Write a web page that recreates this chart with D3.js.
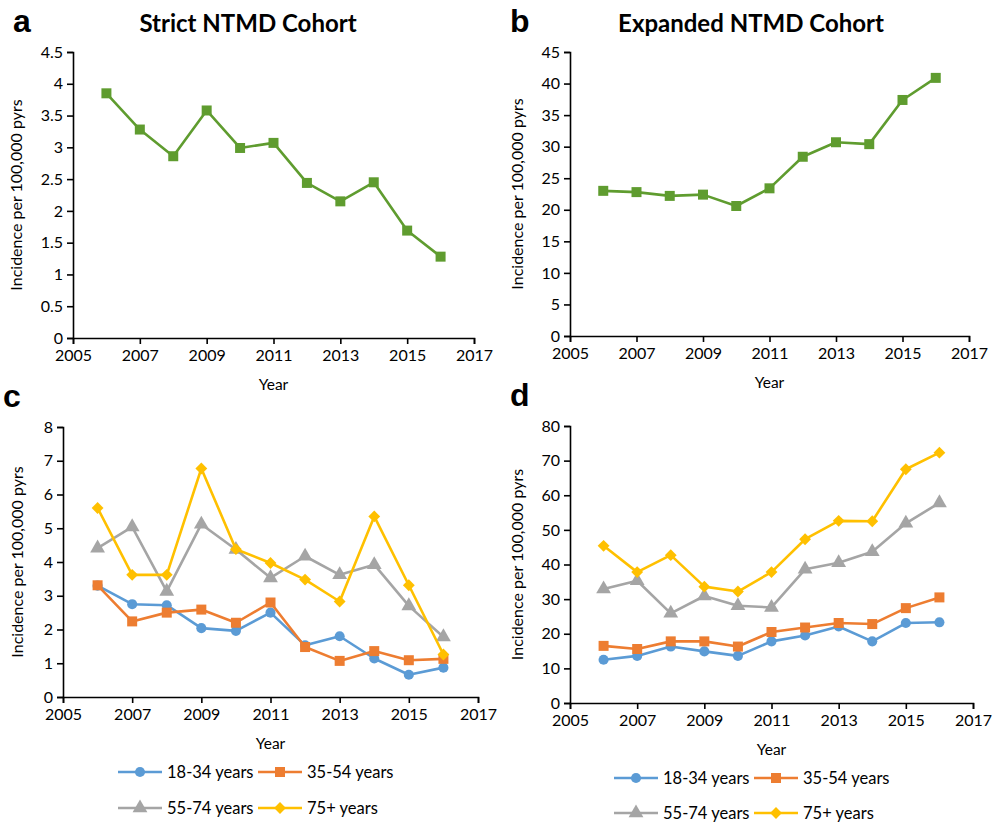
<!DOCTYPE html>
<html>
<head>
<meta charset="utf-8">
<script src="https://cdn.jsdelivr.net/npm/d3@7"></script>
<style>
  body { margin: 0; background: #fff; }
  svg text { font-family: Lato, "Open Sans", sans-serif; fill: #000; }
</style>
</head>
<body>
<svg id="svg" width="1003" height="822"></svg>
<script>
// data
const years = [2006, 2007, 2008, 2009, 2010, 2011, 2012, 2013, 2014, 2015, 2016];
const xTicks = [2005, 2007, 2009, 2011, 2013, 2015, 2017];

const strictTotal = [3.85, 3.28, 2.86, 3.58, 2.99, 3.07, 2.44, 2.15, 2.45, 1.69, 1.28];
const expandedTotal = [23.0, 22.8, 22.2, 22.4, 20.6, 23.4, 28.4, 30.7, 30.4, 37.4, 40.9];

const strict18 = [3.30, 2.75, 2.72, 2.04, 1.96, 2.50, 1.53, 1.80, 1.14, 0.66, 0.87];
const strict35 = [3.31, 2.24, 2.50, 2.59, 2.20, 2.80, 1.48, 1.07, 1.36, 1.09, 1.13];
const strict55 = [4.41, 5.04, 3.13, 5.12, 4.37, 3.53, 4.17, 3.62, 3.92, 2.70, 1.78];
const strict75 = [5.60, 3.62, 3.62, 6.77, 4.38, 3.97, 3.48, 2.83, 5.35, 3.31, 1.26];

const exp18 = [12.5, 13.6, 16.3, 14.9, 13.6, 17.8, 19.5, 22.1, 17.8, 23.1, 23.3];
const exp35 = [16.5, 15.6, 17.8, 17.8, 16.3, 20.5, 21.8, 23.1, 22.8, 27.4, 30.5];
const exp55 = [32.9, 35.3, 25.9, 30.9, 28.1, 27.6, 38.6, 40.5, 43.7, 51.9, 57.8];
const exp75 = [45.4, 37.8, 42.7, 33.6, 32.2, 37.8, 47.3, 52.6, 52.5, 67.5, 72.3];

const ageGroups = ["18-34 years", "35-54 years", "55-74 years", "75+ years"];
const ageColors = ["#5b9bd5", "#ed7d31", "#a5a5a5", "#ffc000"];
const ageShapes = ["circle", "square", "triangle", "diamond"];
const green = "#5f9c2f";

const yTicksA = [0, 0.5, 1, 1.5, 2, 2.5, 3, 3.5, 4, 4.5];
const yTicksB = [0, 5, 10, 15, 20, 25, 30, 35, 40, 45];
const yTicksC = [0, 1, 2, 3, 4, 5, 6, 7, 8];
const yTicksD = [0, 10, 20, 30, 40, 50, 60, 70, 80];

const svg = d3.select("#svg");

function marker(shape) {
    if (shape === "circle") return d3.symbol(d3.symbolCircle, 80)();
    if (shape === "square") return d3.symbol(d3.symbolSquare, 100)();
    if (shape === "triangle") return d3.symbol(d3.symbolTriangle, 95)();
    return d3.symbol(d3.symbolSquare, 70)();
}
function markerRotate(shape) {
    return shape === "diamond" ? " rotate(45)" : "";
}

function drawPanel(p) {
    const g = svg.append("g");
    const x = d3.scaleLinear().domain([2005, 2017]).range([p.left, p.right]);
    const y = d3.scaleLinear().domain([0, p.yMax]).range([p.bottom, p.top]);

    // axes
    const xAxis = g.append("g")
        .attr("transform", "translate(0," + p.bottom + ")")
        .call(d3.axisBottom(x).tickValues(xTicks).tickFormat(d => d).tickSizeOuter(0).tickSize(6).tickPadding(6));
    const yAxis = g.append("g")
        .attr("transform", "translate(" + p.left + ",0)")
        .call(d3.axisLeft(y).tickValues(p.yTicks).tickFormat(d => d).tickSizeOuter(0).tickSize(6).tickPadding(4));
    [xAxis, yAxis].forEach(a => {
        a.selectAll("path, line").attr("stroke", "#000").attr("stroke-width", 1.6);
        a.selectAll("text").style("font-size", "16px").attr("fill", "#000");
    });

    // panel letter and title
    g.append("text").attr("x", p.left - 60).attr("y", p.top - 20)
        .style("font-family", "Arial, 'Liberation Sans', sans-serif")
        .style("font-weight", "bold").style("font-size", "32px").text(p.letter);
    if (p.title) {
        g.append("text").attr("x", p.titleX).attr("y", 32).attr("text-anchor", "middle")
            .style("font-weight", "bold").style("font-size", "24px").text(p.title);
    }

    // axis titles
    g.append("text").attr("x", (p.left + p.right) / 2).attr("y", p.bottom + 52)
        .attr("text-anchor", "middle").style("font-size", "15.5px").text("Year");
    g.append("text")
        .attr("transform", "translate(" + (p.left - p.labelOff) + "," + ((p.top + p.bottom) / 2) + ") rotate(-90)")
        .attr("text-anchor", "middle").style("font-size", "16px").text("Incidence per 100,000 pyrs");

    // series
    const line = d3.line().x((d, i) => x(years[i])).y(d => y(d));
    p.series.forEach(s => {
        g.append("path").datum(s.values)
            .attr("d", line).attr("fill", "none")
            .attr("stroke", s.color).attr("stroke-width", 2.6).attr("stroke-linejoin", "round");
        g.selectAll(null).data(s.values).enter().append("path")
            .attr("d", marker(s.shape))
            .attr("transform", (d, i) => "translate(" + x(years[i]) + "," + y(d) + ")" + markerRotate(s.shape))
            .attr("fill", s.color);
    });

    // legend
    if (p.legend) {
        const s = p.legend;
        ageGroups.forEach((name, i) => {
            const lx = s.x + (i % 2) * s.dx;
            const ly = s.y + Math.floor(i / 2) * s.dy;
            g.append("line").attr("x1", lx).attr("x2", lx + 44).attr("y1", ly).attr("y2", ly)
                .attr("stroke", ageColors[i]).attr("stroke-width", 2.6);
            g.append("path").attr("d", marker(ageShapes[i]))
                .attr("transform", "translate(" + (lx + 22) + "," + ly + ")" + markerRotate(ageShapes[i]))
                .attr("fill", ageColors[i]);
            g.append("text").attr("x", lx + 49).attr("y", ly + 6)
                .style("font-size", "16.5px").text(name);
        });
    }
}

function ageSeries(vals) {
    return vals.map((v, i) => ({ values: v, color: ageColors[i], shape: ageShapes[i] }));
}

drawPanel({ letter: "a", title: "Strict NTMD Cohort", titleX: 248, labelOff: 51,
    left: 73, right: 474, top: 52, bottom: 338, yMax: 4.5, yTicks: yTicksA,
    series: [{ values: strictTotal, color: green, shape: "square" }] });

drawPanel({ letter: "b", title: "Expanded NTMD Cohort", titleX: 751, labelOff: 47,
    left: 570, right: 969, top: 52, bottom: 336, yMax: 45, yTicks: yTicksB,
    series: [{ values: expandedTotal, color: green, shape: "square" }] });

drawPanel({ letter: "c", labelOff: 40, left: 63, right: 478, top: 427, bottom: 697, yMax: 8, yTicks: yTicksC,
    series: ageSeries([strict18, strict35, strict55, strict75]),
    legend: { x: 118, y: 772, dx: 140, dy: 36 } });

drawPanel({ letter: "d", labelOff: 47, left: 570, right: 973, top: 426, bottom: 703, yMax: 80, yTicks: yTicksD,
    series: ageSeries([exp18, exp35, exp55, exp75]),
    legend: { x: 614, y: 778, dx: 140, dy: 35 } });
</script>
</body>
</html>
